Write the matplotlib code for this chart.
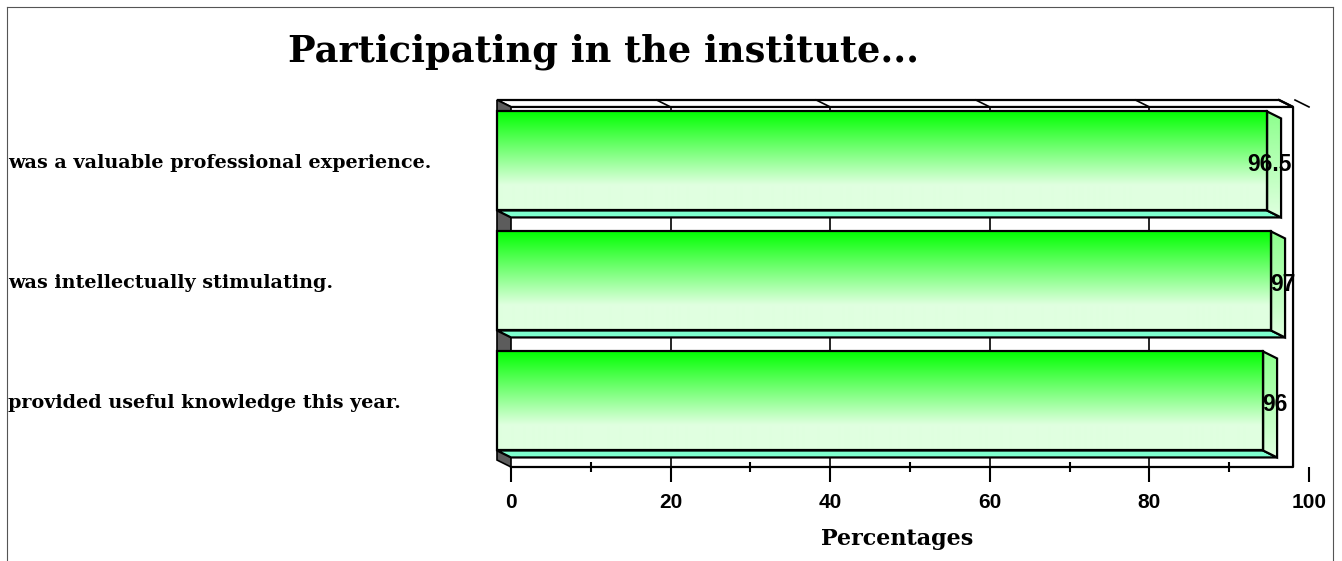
import numpy as np
import matplotlib
matplotlib.use("Agg")
import matplotlib.pyplot as plt
from matplotlib.patches import Polygon
from matplotlib.lines import Line2D
from matplotlib.transforms import blended_transform_factory

# datos del grafico
categorias = ["provided useful knowledge this year.",
              "was intellectually stimulating.",
              "was a valuable professional experience."]
valores = [96, 97, 96.5]
ticks = [0, 20, 40, 60, 80, 100]
titulo = "Participating in the institute..."
etiqueta_x = "Percentages"

# geometria del efecto 3d (en unidades de datos)
DX = 1.754      # desplazamiento de profundidad en x
DY = -0.058     # desplazamiento de profundidad en y
H = 0.825       # alto de la barra
YT = 2.508      # techo (plano frontal)
YB = -0.492     # piso (plano frontal)
XB = 98.0       # borde derecho de la caja

fig = plt.figure(figsize=(13.42, 5.61), dpi=100)
ax = fig.add_axes([497 / 1342, 94 / 561, 812 / 1342, 367 / 561])
ax.set_xlim(-DX, 100)
ax.set_ylim(YB + DY, YT)
for s in ax.spines.values():
    s.set_visible(False)
ax.set_yticks([])

# pared del fondo: lineas de cuadricula
for t in ticks[1:-1]:
    ax.plot([t, t], [YB + DY, YT + DY], color="black", lw=1.2, zorder=1)

# techo
ax.add_patch(Polygon([(-DX, YT), (XB - DX, YT), (XB, YT + DY), (0, YT + DY)],
                     closed=True, facecolor="white", edgecolor="black", lw=1.6, zorder=1,
                     clip_on=False))
for t in ticks[1:]:
    ax.plot([t - DX, t], [YT, YT + DY], color="black", lw=1.2, zorder=1, clip_on=False)

# borde derecho y piso
ax.plot([XB - DX, XB, XB, 0], [YT, YT + DY, YB + DY, YB + DY], color="black", lw=1.6,
        zorder=1, clip_on=False)

# pared izquierda gris
ax.add_patch(Polygon([(-DX, YT), (0, YT + DY), (0, YB + DY), (-DX, YB)],
                     closed=True, facecolor="#5c5c5c", edgecolor="black", lw=1.2, zorder=2,
                     clip_on=False))

# gradientes
n = 200
f = np.clip(np.linspace(0, 1, n) / 0.75, 0, 1)
top = np.array([0, 255, 0]) / 255
bot = np.array([224, 255, 224]) / 255
grad_frente = (top[None, :] * (1 - f[:, None]) + bot[None, :] * f[:, None])[:, None, :]
top2 = np.array([140, 255, 140]) / 255
f2 = np.linspace(0, 1, n)
grad_lado = (top2[None, :] * (1 - f2[:, None]) + bot[None, :] * f2[:, None])[:, None, :]

for i, v in enumerate(valores):
    y0, y1 = i - H / 2, i + H / 2
    # cara inferior
    ax.add_patch(Polygon([(-DX, y0), (v - DX, y0), (v, y0 + DY), (0, y0 + DY)],
                         closed=True, facecolor="#7effcf", edgecolor="black", lw=1.6,
                         zorder=3, clip_on=False))
    # cara lateral
    lado = Polygon([(v - DX, y1), (v, y1 + DY), (v, y0 + DY), (v - DX, y0)],
                   closed=True, facecolor="none", edgecolor="black", lw=1.6, zorder=4)
    im = ax.imshow(grad_lado, extent=[v - DX, v, y0 + DY, y1], origin="upper",
                   aspect="auto", zorder=3.5, interpolation="bilinear")
    ax.add_patch(lado)
    im.set_clip_path(lado)
    # cara frontal
    frente = Polygon([(-DX, y0), (v - DX, y0), (v - DX, y1), (-DX, y1)],
                     closed=True, facecolor="none", edgecolor="black", lw=1.6, zorder=4,
                     clip_on=False)
    im2 = ax.imshow(grad_frente, extent=[-DX, v - DX, y0, y1], origin="upper",
                    aspect="auto", zorder=3.5, interpolation="bilinear")
    ax.add_patch(frente)
    im2.set_clip_path(frente)
    # etiqueta de valor
    ax.text(v + 1.3, i - 0.03, f"{v:g}", ha="right", va="center", fontsize=16.5,
            fontweight="bold", family="Liberation Sans", zorder=6, clip_on=False)

ax.set_xlim(-DX, 100)
ax.set_ylim(YB + DY, YT)

# ejes
ax.set_xticks(ticks)
ax.set_xticks([10, 30, 50, 70, 90], minor=True)
ax.tick_params(axis="x", which="major", direction="out", length=10.8, width=1.5, pad=8,
               labelsize=15)
ax.tick_params(axis="x", which="minor", direction="inout", length=6.5, width=1.5)
for lab in ax.get_xticklabels():
    lab.set_fontweight("bold")
    lab.set_family("Liberation Sans")
ax.set_xlabel(etiqueta_x, fontsize=16, fontweight="bold", family="DejaVu Serif")
ax.xaxis.set_label_coords((897 - 497) / 812, -0.165)

# etiquetas de categorias
tr = blended_transform_factory(fig.transFigure, ax.transData)
for i, c in enumerate(categorias):
    ax.text(8 / 1342, i - 0.02, c, transform=tr, ha="left", va="center", fontsize=13.8,
            fontweight="bold", family="DejaVu Serif")

fig.text(603 / 1342, 1 - 52 / 561, titulo, ha="center", va="center", fontsize=26.5,
         fontweight="bold", family="DejaVu Serif")

# marco
for xs, ys in [([7, 7], [0, 554]), ([7, 1333], [554, 554]), ([1333, 1333], [0, 554])]:
    fig.add_artist(Line2D(np.array(xs) / 1342, np.array(ys) / 561, color="#555555", lw=0.8))

fig.savefig("out.png", dpi=100)
